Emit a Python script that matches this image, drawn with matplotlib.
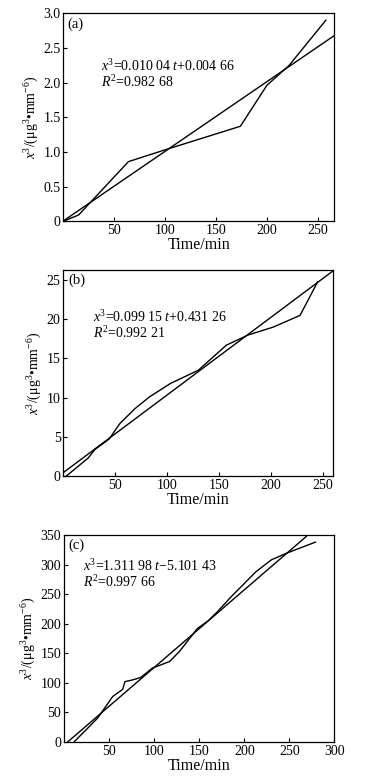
import matplotlib
matplotlib.use("Agg")
import numpy as np
import matplotlib.pyplot as plt

plt.rcParams['font.family'] = ['Liberation Serif', 'DejaVu Serif']
plt.rcParams['mathtext.fontset'] = 'custom'
plt.rcParams['mathtext.rm'] = 'Liberation Serif'
plt.rcParams['mathtext.it'] = 'Liberation Serif:italic'

# ===== 数据=====
# (a)
t_a = [0, 15, 64, 100, 174, 200, 222, 258]
y_a = [0, 0.09, 0.86, 1.03, 1.37, 1.96, 2.25, 2.90]
fit_a = (0.01004, 0.00466)
xlim_a = (0, 266)
ylim_a = (0, 3.0)
xticks_a = [50, 100, 150, 200, 250]
yticks_a = [0, 0.5, 1.0, 1.5, 2.0, 2.5, 3.0]
yticklabels_a = ["0", "0.5", "1.0", "1.5", "2.0", "2.5", "3.0"]

# (b)
t_b = [3, 24, 30.5, 44, 54.5, 69, 83, 103, 130, 157, 178, 202, 228, 245]
y_b = [0, 2.3, 3.4, 4.7, 6.7, 8.6, 10.1, 11.8, 13.5, 16.7, 18.0, 19.0, 20.5, 24.8]
fit_b = (0.09915, 0.43126)
xlim_b = (0, 260)
ylim_b = (0, 26.3)
xticks_b = [50, 100, 150, 200, 250]
yticks_b = [0, 5, 10, 15, 20, 25]

# (c)
t_c = [11, 37, 54, 65, 67.5, 76, 85, 98, 117, 128, 148, 160, 170, 185, 200, 213, 230, 245, 255, 279]
y_c = [0, 40, 77, 89, 102, 105, 109, 125, 136, 153, 192, 205, 220, 245, 268, 288, 308, 318, 324, 338]
fit_c = (1.31198, -5.10143)
fit_c_range = (3.9, 269)
xlim_c = (0, 300)
ylim_c = (0, 350)
xticks_c = [50, 100, 150, 200, 250, 300]
yticks_c = [0, 50, 100, 150, 200, 250, 300, 350]

eq_a = [r"$x^3$=0.010 04 $t$+0.004 66", r"$R^2$=0.982 68"]
eq_b = [r"$x^3$=0.099 15 $t$+0.431 26", r"$R^2$=0.992 21"]
eq_c = [r"$x^3$=1.311 98 $t$$-$5.101 43", r"$R^2$=0.997 66"]

YLABEL = r"$x^3$/(μg$^3$•mm$^{-6}$)"

fig = plt.figure(figsize=(3.77, 7.79), dpi=100)
ax_a = fig.add_axes([0.168, 0.716, 0.718, 0.267])
ax_b = fig.add_axes([0.168, 0.389, 0.716, 0.2644])
ax_c = fig.add_axes([0.170, 0.0475, 0.717, 0.2657])


def style(ax, xlim, ylim, xticks, yticks, yticklabels=None):
    ax.set_xlim(*xlim)
    ax.set_ylim(*ylim)
    ax.set_xticks(xticks)
    ax.set_yticks(yticks)
    if yticklabels is not None:
        ax.set_yticklabels(yticklabels)
    ax.tick_params(direction='in', length=3, width=0.8, labelsize=10, pad=2)
    for s in ax.spines.values():
        s.set_linewidth(0.9)
    ax.set_xlabel("Time/min", fontsize=11.5, labelpad=0)
    ax.set_ylabel(YLABEL, fontsize=10, labelpad=2)


def panel(ax, t, y, fit, fit_range, tag, eq, eq_xy, tag_xy, dy):
    ax.plot(t, y, color='black', lw=1.0)
    tt = np.array(fit_range)
    ax.plot(tt, fit[0] * tt + fit[1], color='black', lw=1.0)
    ax.text(tag_xy[0], tag_xy[1], tag, transform=ax.transAxes, fontsize=10.5, va='center')
    ax.text(eq_xy[0], eq_xy[1], eq[0], transform=ax.transAxes, fontsize=10, va='center')
    ax.text(eq_xy[0], eq_xy[1] - dy, eq[1], transform=ax.transAxes, fontsize=10, va='center')


panel(ax_a, t_a, y_a, fit_a, (0, 266), "(a)", eq_a, (0.139, 0.746), (0.014, 0.946), 0.076)
style(ax_a, xlim_a, ylim_a, xticks_a, yticks_a, yticklabels_a)

panel(ax_b, t_b, y_b, fit_b, (0, 260), "(b)", eq_b, (0.109, 0.772), (0.018, 0.951), 0.077)
style(ax_b, xlim_b, ylim_b, xticks_b, yticks_b)

panel(ax_c, t_c, y_c, fit_c, fit_c_range, "(c)", eq_c, (0.069, 0.850), (0.015, 0.952), 0.076)
style(ax_c, xlim_c, ylim_c, xticks_c, yticks_c)

fig.savefig("out.png", dpi=100)
